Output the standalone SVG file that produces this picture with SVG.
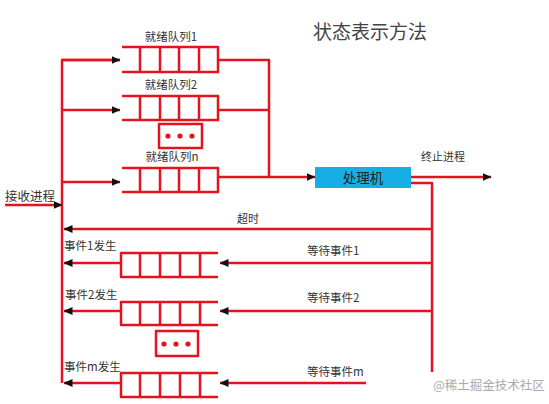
<svg xmlns="http://www.w3.org/2000/svg" width="549" height="404" viewBox="0 0 549 404">
<defs>
<marker id="ah" markerUnits="userSpaceOnUse" markerWidth="9" markerHeight="8" refX="8.5" refY="4" orient="auto">
<path d="M0,0 L9,4 L0,8 z" fill="#111"/>
</marker>
<style>
.r{fill:none;stroke:#e3141f;stroke-width:2.5;stroke-linejoin:round}
.c{fill:none;stroke:#e3141f;stroke-width:2.5;marker-end:url(#ah)}
.t{font-family:"Noto Sans CJK SC","Liberation Serif",serif;font-size:11.5px;fill:#333}
.dot{fill:#e3141f}
</style>
</defs>
<rect width="549" height="404" fill="#fff"/>
<text x="313" y="39" style="font-family:'Noto Sans CJK SC',sans-serif;font-size:19px;fill:#444">状态表示方法</text>

<g id="ready1">
<path class="r" d="M122,47 H218 V72 H122 M140,47 V72 M160,47 V72 M179,47 V72 M199,47 V72"/>
<text class="t" x="171" y="41" text-anchor="middle">就绪队列1</text>
</g>
<g id="ready2">
<path class="r" d="M122,96 H218 V120 H122 M140,96 V120 M160,96 V120 M179,96 V120 M199,96 V120"/>
<text class="t" x="171" y="89" text-anchor="middle">就绪队列2</text>
</g>
<g id="dots1">
<rect class="r" x="159" y="124" width="43" height="24"/>
<circle class="dot" cx="168" cy="136" r="2.6"/><circle class="dot" cx="180" cy="136" r="2.6"/><circle class="dot" cx="192" cy="136" r="2.6"/>
</g>
<g id="readyn">
<path class="r" d="M122,168 H218 V192 H122 M140,168 V192 M160,168 V192 M179,168 V192 M199,168 V192"/>
<text class="t" x="172" y="161" text-anchor="middle">就绪队列n</text>
</g>
<g id="cpu">
<rect x="315" y="167" width="96" height="21" fill="#17aee6"/>
<text x="363" y="183" text-anchor="middle" style="font-family:'Noto Sans CJK SC',sans-serif;font-size:13.5px;fill:#222">处理机</text>
</g>
<g id="wait1">
<path class="r" d="M218,253 H121 V277 H218 M140,253 V277 M160,253 V277 M180,253 V277 M200,253 V277"/>
</g>
<g id="wait2">
<path class="r" d="M218,302 H121 V325 H218 M140,302 V325 M160,302 V325 M180,302 V325 M200,302 V325"/>
</g>
<g id="dots2">
<rect class="r" x="156" y="331" width="42" height="25"/>
<circle class="dot" cx="164" cy="344" r="2.6"/><circle class="dot" cx="176" cy="344" r="2.6"/><circle class="dot" cx="188" cy="344" r="2.6"/>
</g>
<g id="waitm">
<path class="r" d="M218,373 H121 V397 H218 M140,373 V397 M160,373 V397 M180,373 V397 M200,373 V397"/>
</g>

<g id="connectors">
<path class="r" d="M120,60 H62 V383"/>
<path class="c" d="M62,110 H120"/>
<path class="c" d="M62,60 H120"/>
<path class="c" d="M62,182 H120"/>
<path class="c" d="M5,205 H62"/>
<path class="r" d="M218,60 H269 V177 M218,110 H269"/>
<path class="c" d="M218,177 H315"/>
<path class="c" d="M411,177 H491"/>
<path class="r" d="M411,183 H432 V372"/>
<path class="c" d="M432,229 H64"/>
<path class="c" d="M432,263 H220"/>
<path class="c" d="M121,263 H64"/>
<path class="c" d="M432,311 H220"/>
<path class="c" d="M121,311 H64"/>
<path class="c" d="M366,383 H220"/>
<path class="c" d="M121,383 H64"/>
</g>

<g id="labels">
<text class="t" x="443" y="161" text-anchor="middle" style="font-size:11px">终止进程</text>
<text class="t" x="5" y="201" style="font-size:12.5px">接收进程</text>
<text class="t" x="237" y="223" style="font-size:11px">超时</text>
<text class="t" x="64" y="250">事件1发生</text>
<text class="t" x="65" y="299">事件2发生</text>
<text class="t" x="64" y="371">事件m发生</text>
<text class="t" x="307" y="255">等待事件1</text>
<text class="t" x="307" y="302">等待事件2</text>
<text class="t" x="307" y="376">等待事件m</text>
<text x="433" y="390" style="font-family:'Noto Sans CJK SC',sans-serif;font-size:12.5px;fill:#aaa">@稀土掘金技术社区</text>
</g>
</svg>
